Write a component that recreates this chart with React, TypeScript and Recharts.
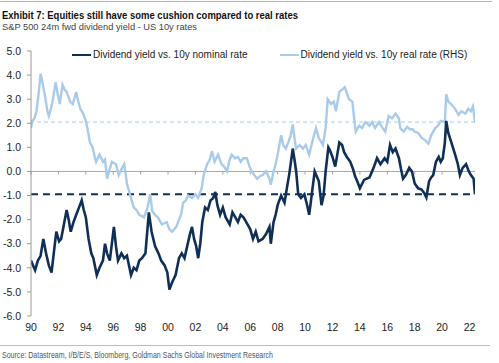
import { LineChart, Line, XAxis, YAxis, ReferenceLine, Legend } from 'recharts';

// year (decimal) / spread in pp
const nominalSeries: [number, number][] = [
  [1990.0, -3.7], [1990.15, -3.9], [1990.3, -4.1], [1990.5, -3.7], [1990.7, -3.5], [1990.9, -2.8],
  [1991.1, -3.4], [1991.3, -3.9], [1991.5, -4.2], [1991.7, -3.2], [1991.85, -2.5], [1992.05, -2.9],
  [1992.2, -2.8], [1992.4, -2.2], [1992.6, -1.6], [1992.75, -2.0], [1992.9, -2.5], [1993.1, -2.1],
  [1993.3, -1.8], [1993.5, -1.5], [1993.7, -1.2], [1993.85, -1.6], [1994.0, -1.9], [1994.2, -2.8],
  [1994.4, -3.4], [1994.55, -3.6], [1994.8, -4.3], [1995.0, -4.0], [1995.25, -3.7], [1995.4, -3.0],
  [1995.55, -3.4], [1995.75, -3.7], [1996.05, -2.3], [1996.2, -3.1], [1996.35, -3.7], [1996.6, -3.4],
  [1996.8, -3.6], [1997.0, -3.5], [1997.3, -4.3], [1997.5, -4.0], [1997.7, -4.1], [1997.9, -3.7],
  [1998.1, -3.6], [1998.35, -3.4], [1998.6, -1.7], [1998.8, -2.5], [1999.05, -3.1], [1999.3, -3.4],
  [1999.5, -3.7], [1999.75, -3.9], [1999.95, -4.2], [2000.1, -4.9], [2000.3, -4.6], [2000.55, -4.3],
  [2000.8, -3.6], [2001.0, -3.4], [2001.2, -3.6], [2001.4, -3.1], [2001.6, -2.6], [2001.75, -2.3],
  [2001.9, -2.8], [2002.05, -3.1], [2002.2, -3.6], [2002.35, -3.0], [2002.5, -2.1], [2002.7, -1.5],
  [2002.9, -1.6], [2003.1, -1.2], [2003.3, -1.1], [2003.45, -0.85], [2003.6, -1.4], [2003.8, -1.8],
  [2004.0, -1.5], [2004.2, -1.9], [2004.5, -2.2], [2004.7, -1.7], [2004.9, -1.9], [2005.1, -2.1],
  [2005.3, -1.8], [2005.5, -1.9], [2005.8, -2.2], [2006.0, -2.4], [2006.2, -2.8], [2006.4, -2.5],
  [2006.6, -2.9], [2006.9, -2.8], [2007.15, -2.6], [2007.4, -2.3], [2007.5, -3.0], [2007.7, -2.1],
  [2007.85, -1.8], [2008.0, -1.4], [2008.25, -1.0], [2008.5, -1.3], [2008.7, -0.6], [2008.85, -0.1],
  [2009.1, 0.95], [2009.25, 0.4], [2009.35, 0.0], [2009.5, -0.95], [2009.7, -1.1], [2009.95, -0.95],
  [2010.15, -1.4], [2010.3, -1.8], [2010.5, -0.9], [2010.7, 0.0], [2010.85, -0.2], [2011.0, -0.4],
  [2011.2, -1.4], [2011.35, -1.0], [2011.5, 0.0], [2011.7, 1.0], [2011.8, 0.9], [2012.0, 0.6],
  [2012.2, 0.2], [2012.5, 1.2], [2012.7, 1.1], [2012.85, 0.8], [2013.05, 0.6], [2013.3, 0.4],
  [2013.5, 0.1], [2013.65, -0.2], [2013.8, -0.4], [2014.0, -0.7], [2014.3, -0.35], [2014.5, -0.3],
  [2014.7, -0.25], [2015.0, 0.15], [2015.25, 0.55], [2015.5, 0.3], [2015.8, 0.55], [2016.0, 0.4],
  [2016.2, 1.1], [2016.4, 0.8], [2016.6, 0.95], [2016.85, 0.55], [2017.0, 0.1], [2017.15, -0.3],
  [2017.35, -0.15], [2017.6, 0.15], [2017.8, 0.0], [2018.0, -0.5], [2018.25, -0.7], [2018.5, -0.75],
  [2018.7, -0.9], [2018.85, -1.08], [2019.05, -0.4], [2019.2, -0.25], [2019.35, -0.15], [2019.55, 0.4],
  [2019.75, 0.6], [2019.9, 0.4], [2020.05, 0.55], [2020.2, 1.2], [2020.3, 2.1], [2020.45, 1.6],
  [2020.65, 1.25], [2020.95, 0.7], [2021.15, 0.3], [2021.3, -0.15], [2021.5, 0.15], [2021.75, 0.3],
  [2021.95, 0.0], [2022.1, -0.15], [2022.3, -0.3], [2022.4, -0.95],
];

const realSeries: [number, number][] = [
  [1990.0, 1.8], [1990.1, 2.1], [1990.25, 2.2], [1990.4, 2.5], [1990.55, 3.2], [1990.7, 4.05],
  [1990.8, 3.8], [1991.0, 3.2], [1991.2, 2.5], [1991.3, 2.3], [1991.45, 2.6], [1991.6, 3.0],
  [1991.8, 3.7], [1991.95, 3.2], [1992.1, 2.8], [1992.3, 3.6], [1992.45, 3.4], [1992.6, 3.3],
  [1992.85, 2.9], [1993.05, 2.8], [1993.3, 3.3], [1993.45, 2.9], [1993.6, 2.6], [1993.8, 2.4],
  [1994.0, 2.1], [1994.15, 1.7], [1994.3, 1.2], [1994.5, 1.0], [1994.65, 0.6], [1994.75, 0.4],
  [1995.0, 0.7], [1995.25, 0.4], [1995.4, 0.5], [1995.55, -0.3], [1995.75, 0.1], [1995.9, 0.4],
  [1996.2, 0.3], [1996.4, -0.15], [1996.6, 0.1], [1996.8, 0.3], [1997.0, -0.5], [1997.3, -1.1],
  [1997.5, -1.5], [1997.7, -1.6], [1997.9, -1.8], [1998.25, -1.9], [1998.5, -1.5], [1998.7, -0.95],
  [1998.85, -1.65], [1999.05, -1.8], [1999.25, -1.9], [1999.55, -2.2], [1999.9, -2.1], [2000.1, -2.4],
  [2000.3, -2.5], [2000.6, -2.3], [2000.8, -2.0], [2000.95, -1.8], [2001.1, -1.3], [2001.3, -1.2],
  [2001.45, -1.0], [2001.75, -1.1], [2002.0, -0.95], [2002.2, -1.1], [2002.45, -0.7], [2002.6, -0.15],
  [2002.85, 0.3], [2003.05, 0.5], [2003.2, 0.85], [2003.4, 0.4], [2003.65, 0.7], [2003.9, 0.3],
  [2004.1, 0.2], [2004.3, 0.0], [2004.5, 0.5], [2004.65, 0.7], [2004.9, 0.55], [2005.1, 0.6],
  [2005.3, 0.4], [2005.5, 0.55], [2005.75, 0.55], [2005.95, 0.2], [2006.1, 0.0], [2006.5, -0.3],
  [2006.7, -0.2], [2006.9, -0.15], [2007.15, 0.0], [2007.4, -0.3], [2007.5, -0.55], [2007.7, 0.0],
  [2007.85, 0.3], [2008.0, 0.7], [2008.25, 1.5], [2008.4, 1.1], [2008.6, 0.95], [2008.8, 1.25],
  [2008.95, 1.5], [2009.1, 1.95], [2009.25, 1.3], [2009.35, 0.95], [2009.6, 1.1], [2009.85, 0.95],
  [2010.05, 1.1], [2010.3, 0.7], [2010.6, 1.4], [2010.8, 1.8], [2011.0, 1.4], [2011.3, 1.1],
  [2011.5, 1.8], [2011.65, 3.0], [2011.9, 2.8], [2012.1, 2.9], [2012.25, 2.5], [2012.5, 3.3],
  [2012.7, 3.4], [2012.9, 3.5], [2013.2, 3.0], [2013.45, 2.9], [2013.6, 2.1], [2013.7, 1.65],
  [2013.95, 1.9], [2014.15, 1.8], [2014.4, 2.05], [2014.7, 1.9], [2014.9, 2.05], [2015.1, 1.8],
  [2015.4, 2.05], [2015.6, 1.85], [2015.85, 1.65], [2016.1, 2.3], [2016.35, 2.2], [2016.6, 2.4],
  [2016.85, 2.2], [2016.95, 1.8], [2017.2, 1.65], [2017.45, 1.85], [2017.65, 1.75], [2017.85, 1.75],
  [2018.0, 1.65], [2018.25, 1.6], [2018.5, 1.4], [2018.75, 1.3], [2019.0, 1.15], [2019.2, 1.5],
  [2019.5, 1.8], [2019.7, 1.9], [2019.9, 2.1], [2020.2, 2.05], [2020.3, 3.2], [2020.45, 2.9],
  [2020.65, 2.8], [2020.95, 2.6], [2021.2, 2.35], [2021.4, 2.5], [2021.7, 2.4], [2021.9, 2.6],
  [2022.1, 2.5], [2022.25, 2.7], [2022.4, 2.05],
];

const yTicks = [5, 4, 3, 2, 1, 0, -1, -2, -3, -4, -5, -6];
const xTicks = [1990, 1992, 1994, 1996, 1998, 2000, 2002, 2004, 2006, 2008, 2010, 2012, 2014, 2016, 2018, 2020, 2022];
const nominalAvg = -0.95;
const realAvg = 2.05;

const DARK = '#0f2f57';
const LIGHT = '#a9cbea';
const FONT = '"Liberation Sans", Arial, sans-serif';

const nominalData = nominalSeries.map(([t, v]) => ({ t, v }));
const realData = realSeries.map(([t, v]) => ({ t, v }));

function LegendRow(props: any) {
  const items = props.payload || [];
  return (
    <div style={{ display: 'flex', fontFamily: FONT, fontSize: 10, color: '#222' }}>
      {items.map((it: any, i: number) => (
        <div key={i} style={{ display: 'flex', alignItems: 'center', marginLeft: i === 0 ? 72 : 32 }}>
          <svg width={19} height={4} style={{ marginRight: 2 }}>
            <line x1={0} y1={2} x2={19} y2={2} stroke={it.color} strokeWidth={2} />
          </svg>
          <span>{it.value}</span>
        </div>
      ))}
    </div>
  );
}

export default function App() {
  return (
    <div style={{ position: 'absolute', left: 0, top: 0, width: 499, height: 363, background: '#fff' }}>
      <svg width={499} height={363} style={{ position: 'absolute', left: 0, top: 0 }}>
        <line x1={0} y1={1.5} x2={492} y2={1.5} stroke="#b5b5b5" strokeWidth={1} />
        <text x={2} y={18.5} fontFamily={FONT} fontWeight="bold" fontSize={10.5} fill="#111"
          textLength={296} lengthAdjust="spacingAndGlyphs">
          Exhibit 7: Equities still have some cushion compared to real rates
        </text>
        <text x={2} y={29.5} fontFamily={FONT} fontSize={9} fill="#444"
          textLength={195} lengthAdjust="spacingAndGlyphs">
          S&amp;P 500 24m fwd dividend yield - US 10y rates
        </text>
        <line x1={0} y1={345.5} x2={490} y2={345.5} stroke="#bdbdbd" strokeWidth={1} />
        <text x={2} y={358} fontFamily={FONT} fontSize={8.5} fill="#555"
          textLength={271} lengthAdjust="spacingAndGlyphs">
          Source: Datastream, I/B/E/S, Bloomberg, Goldman Sachs Global Investment Research
        </text>
      </svg>
      <div style={{ position: 'absolute', left: 0, top: 0 }}>
        <LineChart width={499} height={363} margin={{ top: 51, right: 24, bottom: 17, left: 0 }}>
          <XAxis
            dataKey="t"
            type="number"
            domain={[1990, 2022.4]}
            ticks={xTicks}
            tickFormatter={(y: number) => String(y % 100).padStart(2, '0')}
            axisLine={false}
            tickLine={false}
            height={30}
            tick={{ fontSize: 10.5, fill: '#222', fontFamily: FONT }}
            allowDataOverflow
          />
          <YAxis
            yAxisId="left"
            width={31}
            domain={[-6, 5]}
            ticks={yTicks}
            tickFormatter={(v: number) => v.toFixed(1)}
            axisLine={{ stroke: '#9a9a9a' }}
            tickLine={{ stroke: '#9a9a9a' }}
            tickSize={4}
            tickMargin={6}
            tick={{ fontSize: 10.5, fill: '#222', fontFamily: FONT }}
          />
          <YAxis yAxisId="right" orientation="right" hide domain={[-6, 5]} />
          <Legend
            verticalAlign="middle"
            content={LegendRow}
            wrapperStyle={{ position: 'absolute', top: 49, left: 0, width: 499 }}
          />
          <ReferenceLine yAxisId="left" y={0} stroke="#a6a6a6" strokeWidth={1} />
          {xTicks.map((yr) => (
            <ReferenceLine
              key={yr}
              yAxisId="left"
              segment={[{ x: yr, y: 0 }, { x: yr, y: -0.13 }]}
              stroke="#a6a6a6"
              strokeWidth={1}
            />
          ))}
          <ReferenceLine yAxisId="right" y={realAvg} stroke={LIGHT} strokeWidth={1} strokeDasharray="4 3" />
          <ReferenceLine yAxisId="left" y={nominalAvg} stroke={DARK} strokeWidth={2} strokeDasharray="7 5" />
          <Line
            yAxisId="right"
            data={realData}
            dataKey="v"
            name="Dividend yield vs. 10y real rate (RHS)"
            type="linear"
            stroke={LIGHT}
            strokeWidth={2.4}
            dot={false}
            isAnimationActive={false}
          />
          <Line
            yAxisId="left"
            data={nominalData}
            dataKey="v"
            name="Dividend yield vs. 10y nominal rate"
            type="linear"
            stroke={DARK}
            strokeWidth={2.6}
            dot={false}
            isAnimationActive={false}
          />
        </LineChart>
      </div>
    </div>
  );
}
